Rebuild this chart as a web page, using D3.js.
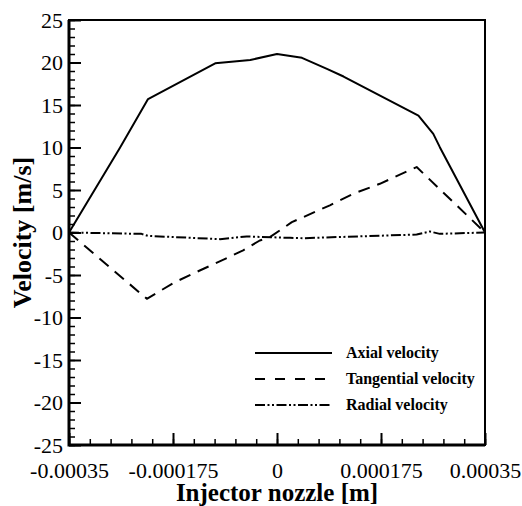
<!DOCTYPE html>
<html>
<head>
<meta charset="utf-8">
<script src="https://cdn.jsdelivr.net/npm/d3@7"></script>
<style>
  html, body { margin: 0; padding: 0; background: #fff; }
  svg { display: block; font-family: "Liberation Serif", "Times New Roman", serif; }
</style>
</head>
<body>
<svg id="chart"></svg>
<script>
// data
const axialX = [-0.00035, -0.000264, -0.000217, -0.000104, -0.000045, 0, 0.000042, 0.000084, 0.000112, 0.000238, 0.000263, 0.000274, 0.00035];
const axialY = [0, 10.0, 15.7, 19.9, 20.3, 21.0, 20.55, 19.25, 18.35, 13.76, 11.6, 10.04, 0];

const tangX = [-0.00035, -0.000219, -0.000172, -0.00013, -0.00009, -0.000057, -0.000029, -0.000012, 0.000025, 0.000044, 0.000089, 0.000128, 0.000173, 0.000235, 0.00035];
const tangY = [0, -7.8, -5.85, -4.47, -3.2, -2.1, -0.94, -0.55, 1.22, 1.8, 3.2, 4.55, 5.73, 7.7, 0];

const radX = [-0.00035, -0.000228, -0.000217, -0.000096, -0.000051, 0.000022, 0.000044, 0.000235, 0.000257, 0.000274, 0.00035];
const radY = [0, -0.16, -0.4, -0.78, -0.47, -0.63, -0.67, -0.24, 0.12, -0.16, 0];

const xTicks = [-0.00035, -0.000175, 0, 0.000175, 0.00035];
const xTickLabels = ['-0.00035', '-0.000175', '0', '0.000175', '0.00035'];
const yTicks = [-25, -20, -15, -10, -5, 0, 5, 10, 15, 20, 25];
const yTickLabels = ['-25', '-20', '-15', '-10', '-5', '0', '5', '10', '15', '20', '25'];

const seriesNames = ['Axial velocity', 'Tangential velocity', 'Radial velocity'];
const dashes = [null, '12,8', '10,2.5,2,2.5,2,2.5'];
const legendDashes = [null, '10,10', '10,2.5,2,2.5,2,2.5'];

const width = 522, height = 506;
const margin = {top: 20, right: 37, bottom: 61, left: 69};
const innerW = width - margin.left - margin.right;
const innerH = height - margin.top - margin.bottom;
const serif = '"Liberation Serif", "Times New Roman", serif';

const svg = d3.select('#chart').attr('width', width).attr('height', height);
const chart = svg.append('g').attr('transform', `translate(${margin.left}, ${margin.top})`);

const xscale = d3.scaleLinear().domain([-0.00035, 0.00035]).range([0, innerW]);
const yscale = d3.scaleLinear().domain([-25, 25]).range([innerH, 0]);

// minor ticks
const xMinor = d3.range(-10, 11).map(i => i * 0.000035);
const yMinor = d3.range(-25, 26);

chart.append('g')
    .attr('transform', `translate(0, ${innerH})`)
    .call(d3.axisBottom(xscale).tickValues(xMinor).tickSize(-6).tickFormat(''))
    .call(g => g.select('.domain').remove())
    .selectAll('line').attr('stroke-width', 1.5);

chart.append('g')
    .call(d3.axisLeft(yscale).tickValues(yMinor).tickSize(-6).tickFormat(''))
    .call(g => g.select('.domain').remove())
    .selectAll('line').attr('stroke-width', 1.5);

// major ticks
const xaxis_group = chart.append('g')
    .attr('transform', `translate(0, ${innerH})`)
    .call(d3.axisBottom(xscale).tickValues(xTicks).tickSize(-12).tickPadding(17)
        .tickFormat((d, i) => xTickLabels[i]))
    .attr('font-family', serif)
    .attr('font-size', 22);
xaxis_group.select('.domain').remove();
xaxis_group.selectAll('line').attr('stroke-width', 2);
xaxis_group.selectAll('text').attr('fill', '#000');

const yaxis_group = chart.append('g')
    .call(d3.axisLeft(yscale).tickValues(yTicks).tickSize(-12).tickPadding(6)
        .tickFormat((d, i) => yTickLabels[i]))
    .attr('font-family', serif)
    .attr('font-size', 22);
yaxis_group.select('.domain').remove();
yaxis_group.selectAll('line').attr('stroke-width', 2);
yaxis_group.selectAll('text').attr('fill', '#000');

// frame
chart.append('rect')
    .attr('x', 0).attr('y', 0)
    .attr('width', innerW).attr('height', innerH)
    .attr('fill', 'none')
    .attr('stroke', '#000')
    .attr('stroke-width', 2);
chart.append('path')
    .attr('d', `M0,0V${innerH}H${innerW}`)
    .attr('fill', 'none')
    .attr('stroke', '#000')
    .attr('stroke-width', 3);

// lines
const line = d3.line().x(d => xscale(d[0])).y(d => yscale(d[1]));
const series = [
    d3.zip(axialX, axialY),
    d3.zip(tangX, tangY),
    d3.zip(radX, radY)
];

chart.selectAll('.series')
    .data(series)
    .join('path')
    .attr('class', 'series')
    .attr('d', line)
    .attr('fill', 'none')
    .attr('stroke', '#000')
    .attr('stroke-width', 2)
    .attr('stroke-linejoin', 'round')
    .attr('stroke-dasharray', (d, i) => dashes[i]);

// legend
const legend = svg.append('g').attr('transform', 'translate(255, 353)');
const rowH = 26;
seriesNames.forEach((name, i) => {
    legend.append('line')
        .attr('x1', 0).attr('x2', 77)
        .attr('y1', i * rowH).attr('y2', i * rowH)
        .attr('stroke', '#000')
        .attr('stroke-width', 2)
        .attr('stroke-dasharray', legendDashes[i]);
    legend.append('text')
        .attr('x', 91)
        .attr('y', i * rowH)
        .attr('dy', '0.33em')
        .attr('font-size', 16)
        .attr('font-weight', 'bold')
        .text(name);
});

// axis titles
svg.append('text')
    .attr('x', margin.left + innerW / 2)
    .attr('y', 501)
    .attr('text-anchor', 'middle')
    .attr('font-size', 25)
    .attr('font-weight', 'bold')
    .text('Injector nozzle [m]');

svg.append('text')
    .attr('transform', 'rotate(-90)')
    .attr('x', -(margin.top + innerH / 2))
    .attr('y', 31)
    .attr('text-anchor', 'middle')
    .attr('font-size', 26)
    .attr('font-weight', 'bold')
    .text('Velocity [m/s]');
</script>
</body>
</html>
